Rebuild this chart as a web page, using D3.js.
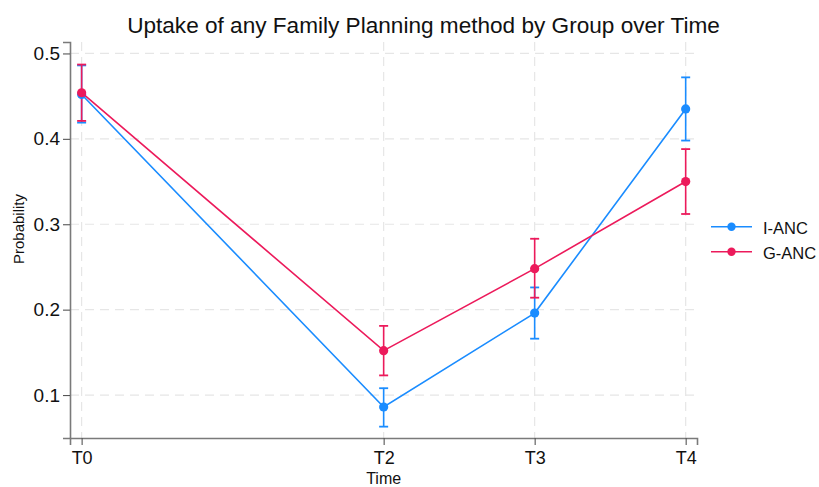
<!DOCTYPE html>
<html>
<head>
<meta charset="utf-8">
<script src="https://cdn.jsdelivr.net/npm/d3@7/dist/d3.min.js"></script>
<style>
  html, body { margin: 0; padding: 0; background: #ffffff; }
  svg { display: block; font-family: "Liberation Sans", Arial, sans-serif; }
</style>
</head>
<body>
<svg id="chart" width="819" height="487"></svg>
<script>
// Time points (numeric position on the time axis) and their labels
const timeLabels = ["T0", "T2", "T3", "T4"];
const timeValues = [0, 2, 3, 4];

// Predicted probabilities with 95% confidence limits, by group
const iancMean  = [0.452, 0.086, 0.196, 0.435];
const iancLower = [0.419, 0.063, 0.166, 0.398];
const iancUpper = [0.486, 0.108, 0.226, 0.472];

const gancMean  = [0.454, 0.152, 0.248, 0.350];
const gancLower = [0.421, 0.123, 0.214, 0.312];
const gancUpper = [0.487, 0.181, 0.283, 0.388];

const yTicks = [0.1, 0.2, 0.3, 0.4, 0.5];

const groups = [
  { name: "I-ANC", color: "#1a8cff", mean: iancMean, lo: iancLower, hi: iancUpper },
  { name: "G-ANC", color: "#ec1a5b", mean: gancMean, lo: gancLower, hi: gancUpper }
];

const svg = d3.select("#chart");
const plot = { left: 70, right: 697, top: 42, bottom: 438 };

const x = d3.scaleLinear().domain([-0.077, 4.075]).range([plot.left, plot.right]);
const y = d3.scaleLinear().domain([0.0497, 0.5134]).range([plot.bottom, plot.top]);

// Dashed grid lines
const grid = svg.append("g").attr("stroke", "#e6e6e6").attr("stroke-width", 1.2)
  .attr("stroke-dasharray", "9,6");
grid.selectAll("line.h").data(yTicks).join("line")
  .attr("x1", plot.left).attr("x2", plot.right)
  .attr("y1", d => y(d)).attr("y2", d => y(d));
grid.selectAll("line.v").data(timeValues).join("line")
  .attr("x1", d => x(d)).attr("x2", d => x(d))
  .attr("y1", plot.top).attr("y2", plot.bottom);

// Axes
const yAxis = d3.axisLeft(y).tickValues(yTicks).tickFormat(d3.format(".1f")).tickSize(7).tickPadding(3);
const xAxis = d3.axisBottom(x).tickValues(timeValues).tickFormat((d, i) => timeLabels[i]).tickSize(7).tickPadding(6);

const gy = svg.append("g").attr("transform", `translate(${plot.left},0)`).call(yAxis);
const gx = svg.append("g").attr("transform", `translate(0,${plot.bottom})`).call(xAxis);
[gy, gx].forEach(g => {
  g.select(".domain").attr("stroke", "#7a7a7a").attr("stroke-width", 1.6);
  g.selectAll(".tick line").attr("stroke", "#555").attr("stroke-width", 1.1);
  g.selectAll(".tick text").attr("fill", "#111")
    .style("font-family", "'Liberation Sans', Arial, sans-serif");
});
gy.selectAll(".tick text").style("font-size", "19px");
gx.selectAll(".tick text").style("font-size", "18px");

// Axis titles
svg.append("text").attr("x", x(2)).attr("y", 484).attr("text-anchor", "middle")
  .style("font-size", "16px").attr("fill", "#111").text("Time");
svg.append("text").attr("transform", `translate(24,${(plot.top + plot.bottom) / 2 - 11}) rotate(-90)`)
  .attr("text-anchor", "middle").style("font-size", "15px").attr("fill", "#111").text("Probability");

// Title
svg.append("text").attr("x", 423.5).attr("y", 33).attr("text-anchor", "middle")
  .style("font-size", "22.6px").attr("fill", "#111")
  .text("Uptake of any Family Planning method by Group over Time");

// Series: confidence intervals, connecting lines, points
const line = d3.line().x(d => x(d[0])).y(d => y(d[1]));
const capHalf = 4.5;

groups.forEach(gr => {
  const g = svg.append("g");
  const idx = d3.range(timeValues.length);
  g.selectAll("line.ci").data(idx).join("line")
    .attr("x1", i => x(timeValues[i])).attr("x2", i => x(timeValues[i]))
    .attr("y1", i => y(gr.lo[i])).attr("y2", i => y(gr.hi[i]))
    .attr("stroke", gr.color).attr("stroke-width", 1.6);
  ["lo", "hi"].forEach(k => {
    g.selectAll("line.cap-" + k).data(idx).join("line")
      .attr("x1", i => x(timeValues[i]) - capHalf).attr("x2", i => x(timeValues[i]) + capHalf)
      .attr("y1", i => y(gr[k][i])).attr("y2", i => y(gr[k][i]))
      .attr("stroke", gr.color).attr("stroke-width", 1.8);
  });
});

groups.forEach(gr => {
  const pts = timeValues.map((t, i) => [t, gr.mean[i]]);
  svg.append("path").datum(pts).attr("d", line)
    .attr("fill", "none").attr("stroke", gr.color).attr("stroke-width", 1.6);
  svg.append("g").selectAll("circle").data(pts).join("circle")
    .attr("cx", d => x(d[0])).attr("cy", d => y(d[1])).attr("r", 4.6)
    .attr("fill", gr.color);
});

// Legend
const legend = svg.append("g");
groups.forEach((gr, i) => {
  const ly = 226.7 + i * 25;
  legend.append("line").attr("x1", 711).attr("x2", 752).attr("y1", ly).attr("y2", ly)
    .attr("stroke", gr.color).attr("stroke-width", 1.6);
  legend.append("circle").attr("cx", 731.5).attr("cy", ly).attr("r", 4.2).attr("fill", gr.color);
  legend.append("text").attr("x", 763).attr("y", ly + 7.3).style("font-size", "16.5px")
    .attr("fill", "#111").text(gr.name);
});
</script>
</body>
</html>
